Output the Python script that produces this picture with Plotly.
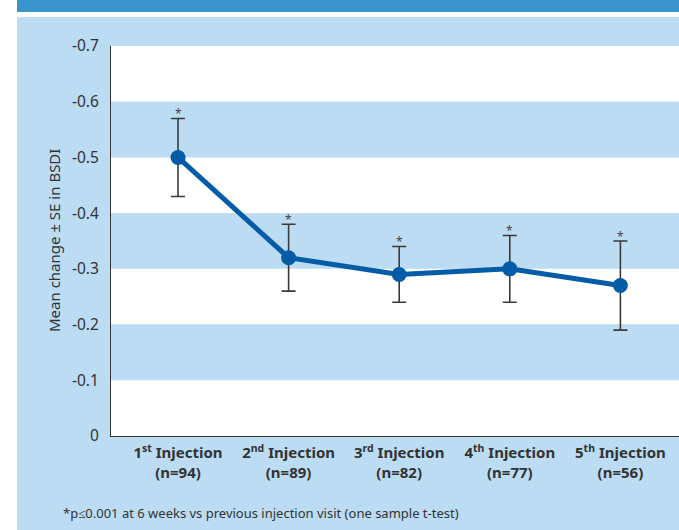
import plotly.graph_objects as go

# ---- data ----
categories = ["1<sup>st</sup> Injection<br>(n=94)", "2<sup>nd</sup> Injection<br>(n=89)",
              "3<sup>rd</sup> Injection<br>(n=82)", "4<sup>th</sup> Injection<br>(n=77)",
              "5<sup>th</sup> Injection<br>(n=56)"]
mean_change = [-0.50, -0.32, -0.29, -0.30, -0.27]
se_upper = [0.07, 0.06, 0.05, 0.06, 0.08]   # toward more negative (upward on chart)
se_lower = [0.07, 0.06, 0.05, 0.06, 0.08]   # toward zero
significant = ["*", "*", "*", "*", "*"]
y_ticks = [-0.7, -0.6, -0.5, -0.4, -0.3, -0.2, -0.1, 0]
y_tick_labels = ["-0.7", "-0.6", "-0.5", "-0.4", "-0.3", "-0.2", "-0.1", "0"]

LIGHT = "#bbdcf2"
DARK = "#3a95cd"
LINE = "#045ca6"
TXT = "#333333"
FONT = "Noto Sans"

xs = list(range(len(categories)))

fig = go.Figure()
fig.add_trace(go.Scatter(
    x=xs, y=mean_change, mode="lines+markers",
    line=dict(color=LINE, width=5),
    marker=dict(color=LINE, size=15),
    error_y=dict(type="data", array=se_lower, arrayminus=se_upper,
                 color="#3a3a3a", thickness=1.6, width=7),
    showlegend=False, cliponaxis=False,
))

shapes = []
# background panel and banner (paper coordinates)
W, H = 679, 530
L, T, B = 111, 46, 94
pw, ph = W - L, H - T - B
def px_x(px): return (px - L) / pw
def px_y(py): return (H - B - py) / ph
shapes.append(dict(type="rect", xref="paper", yref="paper", layer="below",
                   x0=px_x(17), x1=px_x(W + 5), y0=px_y(H + 5), y1=px_y(17),
                   fillcolor=LIGHT, line=dict(width=0)))
shapes.append(dict(type="rect", xref="paper", yref="paper", layer="below",
                   x0=px_x(17), x1=px_x(W + 5), y0=px_y(12), y1=px_y(-5),
                   fillcolor=DARK, line=dict(width=0)))
# horizontal stripes in plot area
for i in range(len(y_ticks) - 1):
    lo, hi = y_ticks[i], y_ticks[i + 1]
    col = "white" if i % 2 == 0 else LIGHT
    shapes.append(dict(type="rect", xref="x domain", yref="y", layer="below",
                       x0=0, x1=1, y0=lo, y1=hi, fillcolor=col, line=dict(width=0)))

annotations = []
for x, m, u, s in zip(xs, mean_change, se_upper, significant):
    annotations.append(dict(x=x, y=m - u, text=s, showarrow=False, yanchor="middle",
                            yshift=5, font=dict(size=12, color="#444", family=FONT)))
annotations.append(dict(x=px_x(54), y=0.5, xref="paper", yref="paper", showarrow=False,
                        xanchor="center", yanchor="middle",
                        text="Mean change ± SE in BSDI", textangle=-90,
                        font=dict(size=15, color=TXT, family=FONT)))
annotations.append(dict(x=px_x(61), y=px_y(513), xref="paper", yref="paper", showarrow=False,
                        xanchor="left", yanchor="middle",
                        text="*p≤0.001 at 6 weeks vs previous injection visit (one sample t-test)",
                        font=dict(size=13, color=TXT, family=FONT)))

fig.update_layout(
    width=W, height=H,
    margin=dict(l=L, r=0, t=T, b=B),
    paper_bgcolor="white", plot_bgcolor="white",
    shapes=shapes, annotations=annotations,
    font=dict(family=FONT, color=TXT),
    xaxis=dict(range=[-0.606, 4.53], tickvals=xs, ticktext=categories,
               showgrid=False, zeroline=False, showline=True, linecolor="#333", linewidth=1,
               ticks="", ticklabelstandoff=3,
               tickfont=dict(size=15, color=TXT, family=FONT, weight="bold")),
    yaxis=dict(range=[0, -0.7], tickvals=y_ticks, ticktext=y_tick_labels,
               showgrid=False, zeroline=False, showline=True, linecolor="#333", linewidth=1,
               ticks="", ticklabelstandoff=8, tickfont=dict(size=15.5, color=TXT, family=FONT)),
)

fig.write_html("out.html", config={"displayModeBar": False},
               post_script="document.body.style.margin='0';document.body.style.overflow='hidden';")
